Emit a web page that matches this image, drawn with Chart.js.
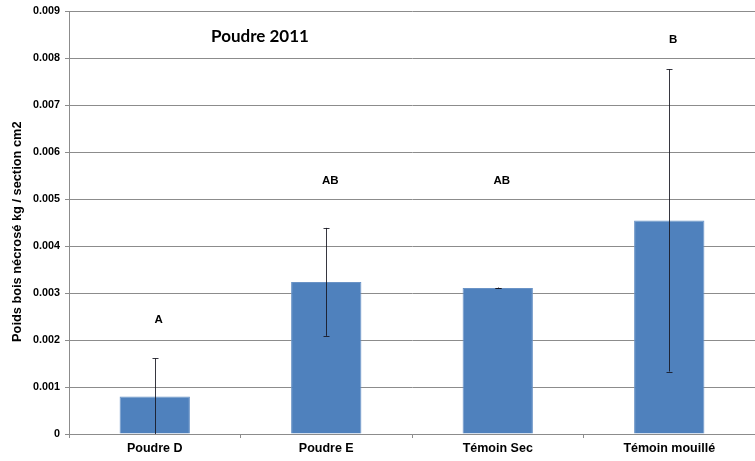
<!DOCTYPE html>
<html>
<head>
<meta charset="utf-8">
<script src="https://cdn.jsdelivr.net/npm/chart.js@4"></script>
<style>
html,body{margin:0;padding:0;background:#fff;}
#wrap{width:755px;height:461px;position:relative;}
</style>
</head>
<body>
<div id="wrap"><canvas id="c" width="755" height="461"></canvas></div>
<script>
const categories = ['Poudre D', 'Poudre E', 'Témoin Sec', 'Témoin mouillé'];
const values = [0.00080, 0.00324, 0.00311, 0.00455];
const errors = [0.00081, 0.00115, 0.00001, 0.00322];
const letters = ['A', 'AB', 'AB', 'B'];
const letterValues = [0.00243, 0.00540, 0.00540, 0.00840];
const chartTitle = 'Poudre 2011';
const yTitle = 'Poids bois nécrosé kg / section cm2';

const errorPlugin = {
  id: 'errbars',
  afterDatasetsDraw(chart) {
    const ctx = chart.ctx;
    const y = chart.scales.y;
    const meta = chart.getDatasetMeta(0);
    ctx.save();
    meta.data.forEach((bar, i) => {
      const x = Math.round(bar.x) + 0.5;
      const top = y.getPixelForValue(values[i] + errors[i]);
      const bot = y.getPixelForValue(Math.max(0, values[i] - errors[i]));
      ctx.strokeStyle = 'rgba(20,20,30,0.85)';
      ctx.lineWidth = 1;
      ctx.beginPath();
      ctx.moveTo(x, top); ctx.lineTo(x, bot);
      ctx.moveTo(x - 3, Math.round(top) + 0.5); ctx.lineTo(x + 3, Math.round(top) + 0.5);
      if (values[i] - errors[i] > 0) {
        ctx.moveTo(x - 3, Math.round(bot) + 0.5); ctx.lineTo(x + 3, Math.round(bot) + 0.5);
      }
      ctx.stroke();
      ctx.fillStyle = '#000';
      ctx.font = 'bold 11.5px "Liberation Sans", Arial, sans-serif';
      ctx.textAlign = 'center';
      ctx.textBaseline = 'middle';
      ctx.fillText(letters[i], bar.x + 4, y.getPixelForValue(letterValues[i]));
    });
    ctx.font = 'bold 17px Lato, "Open Sans", sans-serif';
    ctx.textAlign = 'center';
    ctx.textBaseline = 'middle';
    ctx.fillStyle = '#000';
    ctx.fillText(chartTitle, chart.chartArea.left + 191, chart.chartArea.top + 25);
    ctx.translate(17, (chart.chartArea.top + chart.chartArea.bottom) / 2 + 9);
    ctx.rotate(-Math.PI / 2);
    ctx.font = 'bold 12.8px "Liberation Sans", Arial, sans-serif';
    ctx.fillText(yTitle, 0, 0);
    ctx.restore();
  }
};

new Chart(document.getElementById('c'), {
  type: 'bar',
  data: {
    labels: categories,
    datasets: [{
      data: values,
      backgroundColor: '#4f81bd',
      borderColor: '#6a93c6',
      borderWidth: 1,
      barPercentage: 0.41,
      categoryPercentage: 1.0
    }]
  },
  options: {
    responsive: false,
    animation: false,
    devicePixelRatio: 1,
    layout: { padding: { top: 11, right: 0, left: 0, bottom: 0 } },
    plugins: { legend: { display: false }, tooltip: { enabled: false }, title: { display: false } },
    scales: {
      x: {
        offset: true,
        grid: { display: true, drawOnChartArea: false, offset: true, color: '#8c8c8c', tickLength: 4 },
        border: { color: '#8c8c8c' },
        ticks: { color: '#000', font: { family: '"Liberation Sans", Arial, sans-serif', size: 12.5, weight: 'bold' }, padding: 3 },
        afterFit(s) { s.height = 27; }
      },
      y: {
        min: 0, max: 0.009,
        ticks: {
          stepSize: 0.001,
          color: '#000',
          padding: 5,
          font: { family: '"Liberation Sans", Arial, sans-serif', size: 10.8, weight: 'bold' },
          callback: v => (v === 0 ? '0' : Number(v).toFixed(3))
        },
        grid: { color: '#8c8c8c', tickLength: 4 },
        border: { color: '#8c8c8c' },
        title: { display: false },
        afterFit(s) { s.width = 69; }
      }
    }
  },
  plugins: [errorPlugin]
});
</script>
</body>
</html>
